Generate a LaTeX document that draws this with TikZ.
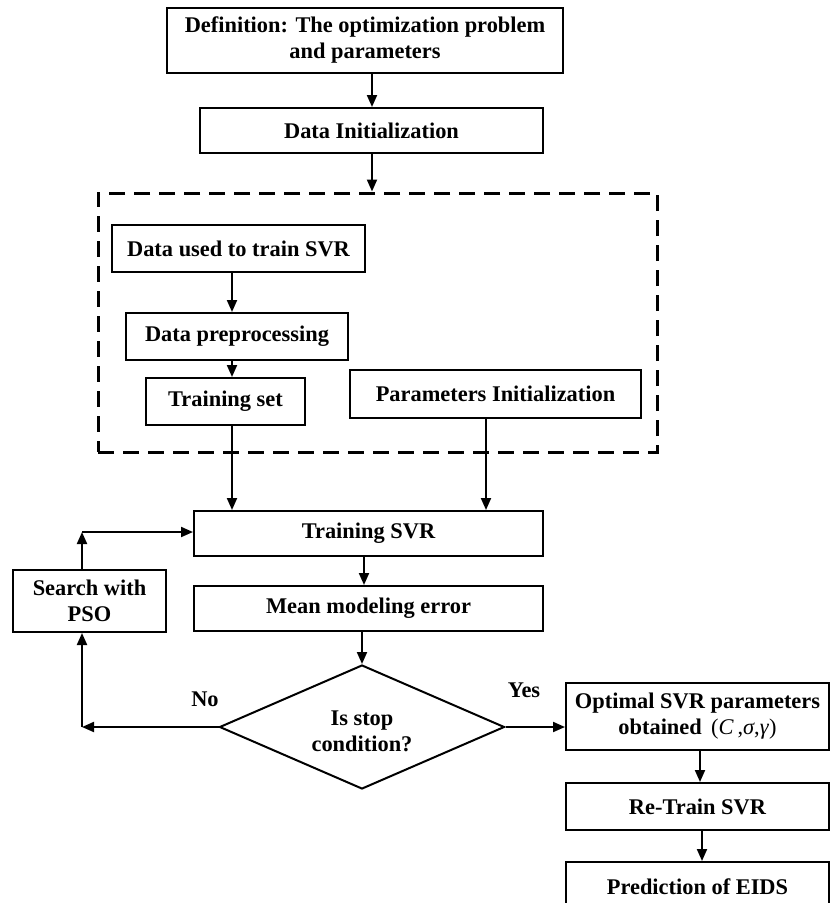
\documentclass[tikz,border=0pt]{standalone}
\usepackage{fontspec}
\setmainfont{Liberation Serif}
\usetikzlibrary{arrows.meta,shapes.geometric}
\begin{document}
\begin{tikzpicture}[x=1pt,y=-1pt,
  box/.style={draw, line width=2pt, font=\bfseries\fontsize{22.4}{26}\selectfont, align=center, inner sep=0pt},
  lbl/.style={font=\bfseries\fontsize{22.4}{26}\selectfont, inner sep=0pt},
  arr/.style={line width=2pt, -{Triangle[length=12pt,width=10pt]}},
  grpbox/.style={draw, line width=3pt, dash pattern=on 16pt off 9pt, inner sep=0pt}]
\useasboundingbox (0,0) rectangle (831,903);
\fill[white] (0,0) rectangle (831,903);

\node[box, minimum width=396pt, minimum height=65pt] (def) at (365,40) {Definition: The optimization problem\\and parameters};
\node[box, minimum width=343pt, minimum height=45pt] (dinit) at (371.5,130.5) {Data Initialization};
\node[grpbox, minimum width=559pt, minimum height=259pt] (grp) at (377.5,322.5) {};
\node[box, minimum width=253pt, minimum height=47pt] (dused) at (238.5,248.5) {Data used to train SVR};
\node[box, minimum width=222pt, minimum height=47pt] (dpre) at (237,336.5) {Data preprocessing};
\node[box, minimum width=159pt, minimum height=47pt] (tset) at (225.5,401.5) {Training set};
\node[box, minimum width=291pt, minimum height=48pt] (pinit) at (495.5,394) {Parameters Initialization};
\node[box, minimum width=349pt, minimum height=45pt] (tsvr) at (368.5,533.5) {Training SVR};
\node[box, minimum width=349pt, minimum height=45pt] (mme) at (368.5,608.5) {Mean modeling error};
\node[draw, line width=2pt, shape=diamond, inner sep=0pt, minimum width=285pt, minimum height=124pt,
      label={[lbl, align=center, yshift=-4pt]center:Is stop\\condition?}] (cond) at (362,727) {};
\node[box, minimum width=153pt, minimum height=62pt] (pso) at (89.5,601) {Search with\\PSO};
\node[box, minimum width=263pt, minimum height=67pt] (opt) at (697.5,716.5) {Optimal SVR parameters\\obtained {\mdseries\,(\textit{C}\,,\textit{σ},\textit{γ})}};
\node[box, minimum width=263pt, minimum height=47pt] (retr) at (697.5,806.5) {Re-Train SVR};
\node[box, minimum width=263pt, minimum height=50pt] (pred) at (697.5,887) {Prediction of EIDS};

\coordinate (c1) at (82,727);
\coordinate (c2) at (82,532);

\draw[arr] (def.south -| 372,0) -- (dinit.north -| 372,0);
\draw[arr] (dinit.south -| 372,0) -- (grp.north -| 372,0);
\draw[arr] (dused.south -| 232,0) -- (dpre.north -| 232,0);
\draw[arr] (dpre.south -| 232,0) -- (tset.north -| 232,0);
\draw[arr] (tset.south -| 232,0) -- (tsvr.north -| 232,0);
\draw[arr] (pinit.south -| 486,0) -- (tsvr.north -| 486,0);
\draw[arr] (tsvr.south -| 364,0) -- (mme.north -| 364,0);
\draw[arr] (mme.south -| 362,0) -- (cond.north);
\draw[arr] (cond.west) -- (c1);
\draw[arr] (c1) -- (pso.south -| c1);
\draw[arr] (pso.north -| c2) -- (c2);
\draw[arr] (c2) -- (tsvr.west |- c2);
\draw[arr] (cond.east) -- (opt.west |- cond.east);
\draw[arr] (opt.south -| 700,0) -- (retr.north -| 700,0);
\draw[arr] (retr.south -| 702,0) -- (pred.north -| 702,0);

\node[lbl] (no) at (205,699) {No};
\node[lbl] (yes) at (524,690) {Yes};
\end{tikzpicture}
\end{document}
